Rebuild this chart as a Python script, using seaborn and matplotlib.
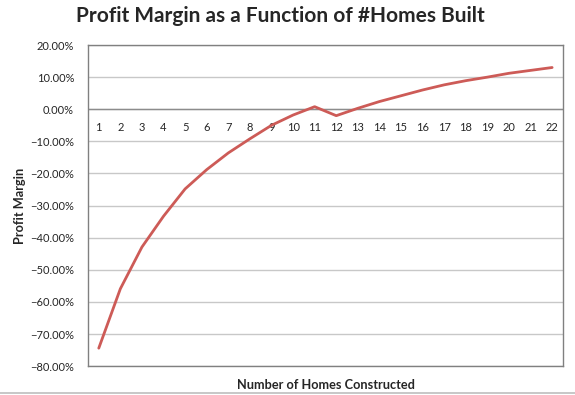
import matplotlib
matplotlib.use("Agg")
import matplotlib.pyplot as plt
import seaborn as sns
import pandas as pd
from matplotlib.ticker import PercentFormatter
from matplotlib.lines import Line2D

# values (profit margin, %)
homes = list(range(1, 23))
margin = [-74.4, -55.9, -42.9, -33.3, -24.8, -18.8, -13.6, -9.2, -5.0, -1.8, 0.8,
          -2.0, 0.3, 2.4, 4.2, 6.0, 7.6, 8.9, 10.0, 11.2, 12.1, 13.0]
tick_labels = [str(h) for h in homes]

TITLE = "Profit Margin as a Function of #Homes Built"
XLABEL = "Number of Homes Constructed"
YLABEL = "Profit Margin"

df = pd.DataFrame({"homes": homes, "margin": margin})

sns.set_style("white")
plt.rcParams['font.family'] = ['Lato', 'DejaVu Sans']

fig = plt.figure(figsize=(5.75, 3.95), dpi=100)
ax = fig.add_axes([0.153, 0.073, 0.826, 0.813])

ax.yaxis.grid(True, color="#c8c8c8", linewidth=1.0)
ax.set_axisbelow(True)
sns.lineplot(data=df, x="homes", y="margin", ax=ax, color="#cd5b57", linewidth=2.0)

ax.set_xlim(0.5, 22.5)
ax.set_ylim(-80, 20)
ax.set_yticks(range(-80, 21, 10))
ax.yaxis.set_major_formatter(PercentFormatter(decimals=2))
ax.tick_params(axis="y", labelsize=8, length=0, pad=10)
ax.axhline(0, color="#8c8c8c", linewidth=1.0, zorder=1.5)

# category axis sits at the zero line, as in the spreadsheet chart
ax.set_xticks([])
ymin, ymax = ax.get_ylim()
sec = ax.secondary_xaxis((0 - ymin) / (ymax - ymin))
sec.set_alignment("bottom")
sec.set_xticks(homes)
sec.set_xticklabels(tick_labels)
sec.tick_params(length=0, labelsize=8, pad=9)
for s in sec.spines.values():
    s.set_visible(False)

for s in ax.spines.values():
    s.set_visible(True)
    s.set_color("#808080")
    s.set_linewidth(1.0)

ax.set_xlabel(XLABEL, fontsize=9.2, fontweight="bold", labelpad=9)
ax.set_ylabel(YLABEL, fontsize=9.2, fontweight="bold", labelpad=3)
fig.suptitle(TITLE, fontsize=15, fontweight="bold", x=0.487, y=0.985)

fig.add_artist(Line2D([0, 1], [0.006, 0.006], color="#bdbdbd", linewidth=1.2,
                      transform=fig.transFigure))

fig.savefig("out.png", dpi=100)
